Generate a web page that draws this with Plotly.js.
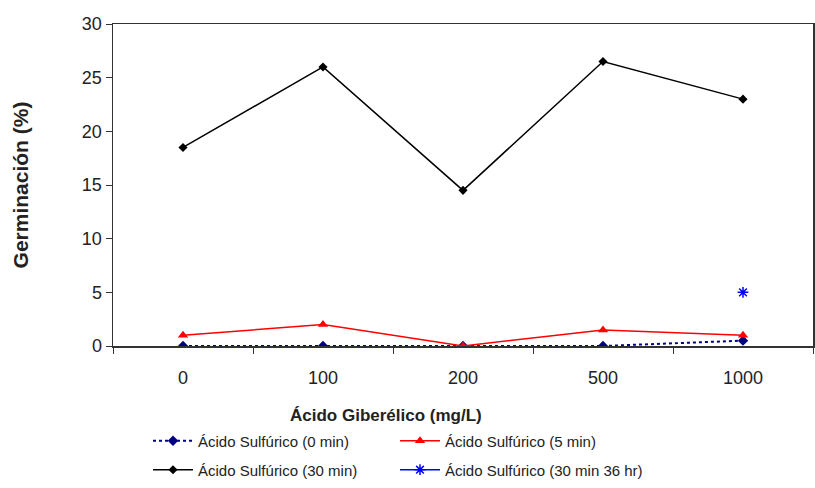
<!DOCTYPE html>
<html><head><meta charset="utf-8">
<script src="https://cdn.plot.ly/plotly-3.0.1.min.js"></script>
<style>html,body{margin:0;padding:0;background:#fff}</style>
</head><body>
<div id="chart" style="width:815px;height:488px"></div>
<script>
const categories = ["0", "100", "200", "500", "1000"];
const sulf0 = [0, 0, 0, 0, 0.5];
const sulf5 = [1, 2, 0, 1.5, 1];
const sulf30 = [18.5, 26, 14.5, 26.5, 23];
const sulf30_36 = [null, null, null, null, 5];
const seriesNames = ["Ácido Sulfúrico (0 min)", "Ácido Sulfúrico (5 min)", "Ácido Sulfúrico (30 min)", "Ácido Sulfúrico (30 min 36 hr)"];
const xTitle = "Ácido Giberélico (mg/L)";
const yTitle = "Germinación (%)";

const font = "Arial, 'Liberation Sans', sans-serif";
const traces = [
  {x: categories, y: sulf0, name: seriesNames[0], mode: "lines+markers", legend: "legend",
   line: {color: "#000080", dash: "dot", width: 2}, marker: {symbol: "diamond", size: 8, color: "#000080"}},
  {x: categories, y: sulf5, name: seriesNames[1], mode: "lines+markers", legend: "legend",
   line: {color: "#ff0000", width: 1.5}, marker: {symbol: "triangle-up", size: 9, color: "#ff0000"}},
  {x: categories, y: sulf30, name: seriesNames[2], mode: "lines+markers", legend: "legend2",
   line: {color: "#000000", width: 1.5}, marker: {symbol: "diamond", size: 7, color: "#000000"}},
  {x: categories, y: sulf30_36, name: seriesNames[3], mode: "lines+markers", legend: "legend2",
   line: {color: "#0000ff", width: 1.5}, marker: {symbol: "asterisk-open", size: 9, color: "#0000ff", line: {color: "#0000ff", width: 1.5}}}
];
const legBase = {orientation: "h", xanchor: "left", yanchor: "middle", entrywidth: 192, entrywidthmode: "pixels",
  font: {family: font, size: 15, color: "#222"}, bgcolor: "rgba(0,0,0,0)", itemwidth: 40};
const layout = {
  width: 815, height: 488,
  margin: {l: 113, r: 2, t: 24, b: 142},
  paper_bgcolor: "#fff", plot_bgcolor: "#fff",
  showlegend: true,
  xaxis: {type: "category", range: [-0.5, 4.5], tickson: "boundaries", ticks: "outside", ticklen: 6,
    tickcolor: "#333", showline: true, linecolor: "#333", linewidth: 1.5, mirror: true, showgrid: false,
    zeroline: false, tickfont: {family: font, size: 18, color: "#222"}, ticklabelstandoff: 15, automargin: false},
  yaxis: {range: [0, 30], dtick: 5, ticks: "outside", ticklen: 6, tickcolor: "#333", showline: true,
    linecolor: "#333", linewidth: 1.5, mirror: true, showgrid: false, zeroline: false,
    tickfont: {family: font, size: 18, color: "#222"},
    title: {text: "<b>" + yTitle + "</b>", font: {family: font, size: 21, color: "#222"}, standoff: 47}, automargin: false},
  legend: Object.assign({}, legBase, {x: 0.05, y: -0.295}),
  legend2: Object.assign({}, legBase, {x: 0.05, y: -0.385}),
  annotations: [{text: "<b>" + xTitle + "</b>", xref: "paper", yref: "paper", x: 0.39, y: -0.215,
    xanchor: "center", yanchor: "middle", showarrow: false, font: {family: font, size: 17, color: "#222"}}]
};
Plotly.newPlot("chart", traces, layout, {displayModeBar: false, staticPlot: true});
</script>
</body></html>
